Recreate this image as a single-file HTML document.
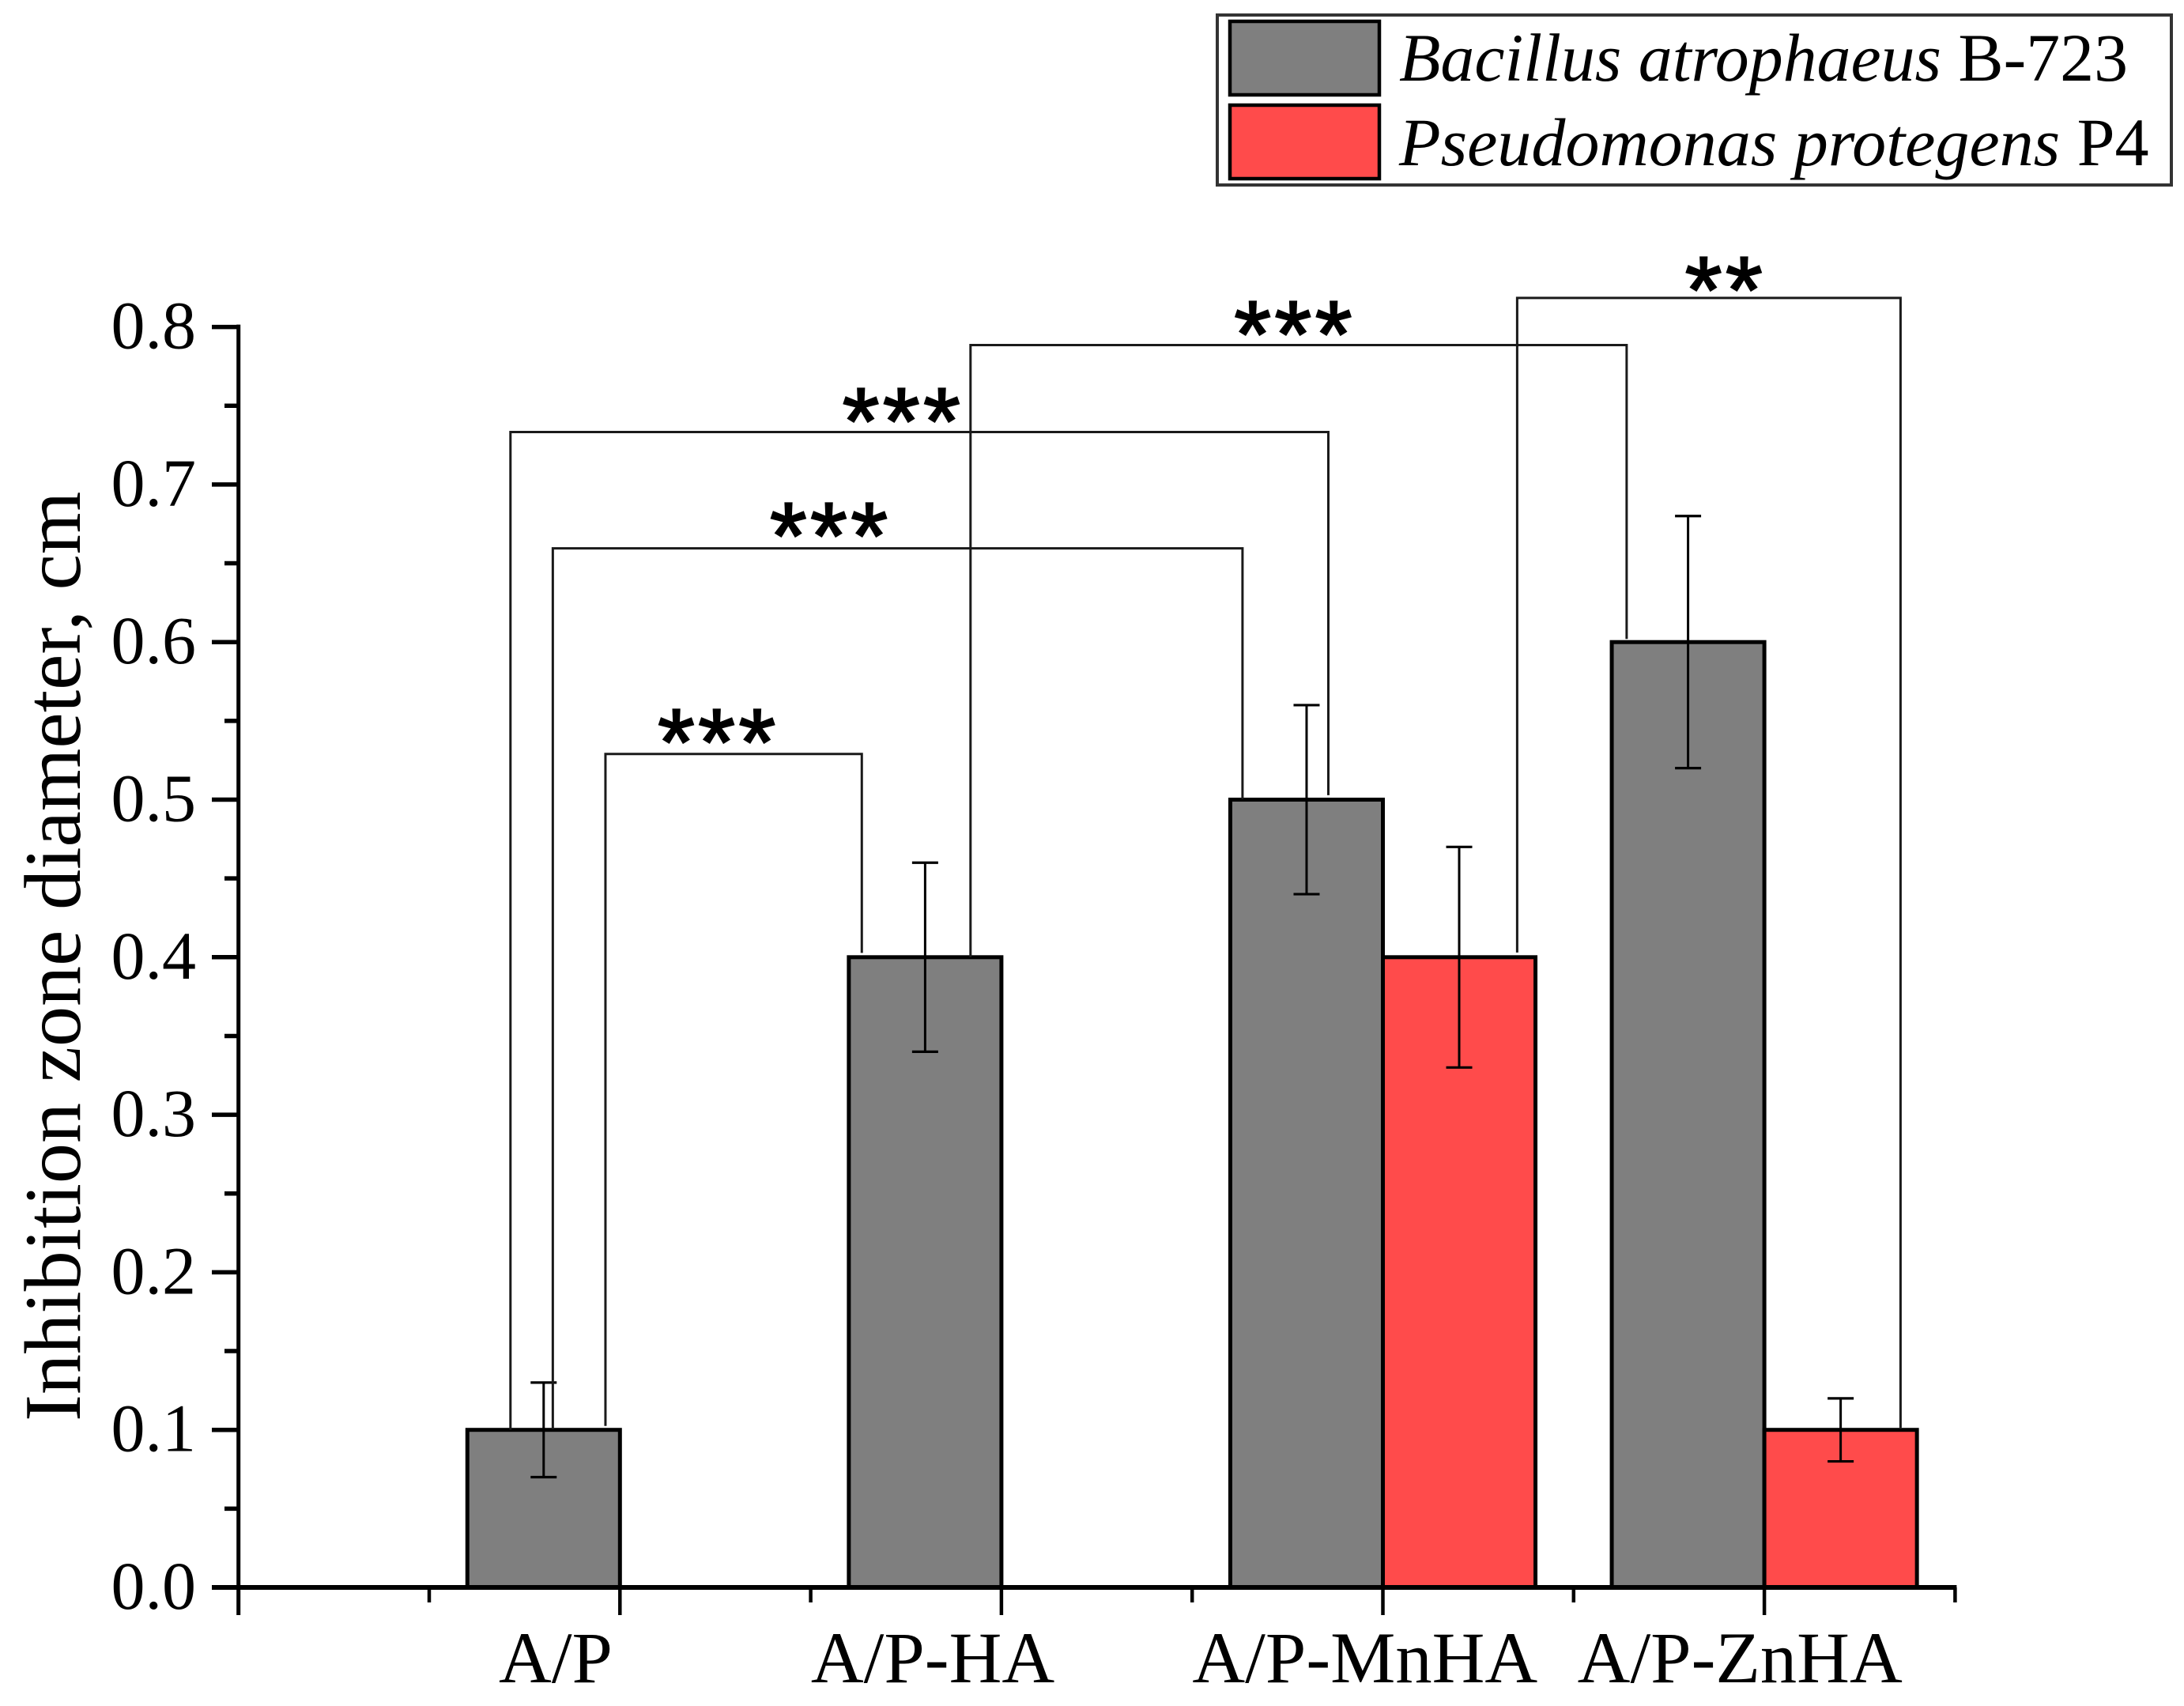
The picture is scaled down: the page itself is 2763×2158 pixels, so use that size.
<!DOCTYPE html>
<html lang="en">
<head>
<meta charset="utf-8">
<title>Inhibition zone diameter chart</title>
<style>
  html, body { margin: 0; padding: 0; background: #fff; }
  body { width: 2763px; height: 2158px; overflow: hidden; }
  svg { display: block; font-family: "Liberation Serif", "Times New Roman", serif; }
</style>
</head>
<body>
<svg id="chart" width="2763" height="2158" viewBox="0 0 2763 2158" xmlns="http://www.w3.org/2000/svg">
  <rect x="0" y="0" width="2763" height="2158" fill="#ffffff"/>
  <g id="plot"></g>
  <text transform="translate(101 1798) rotate(-90)" font-size="102.2" fill="#000">Inhibition zone diameter, cm</text>
  <g>
    <rect x="1540" y="19" width="1207" height="215" fill="#fff" stroke="#333" stroke-width="4"/>
    <rect x="1556" y="27" width="189" height="93" fill="#7f7f7f" stroke="#000" stroke-width="4.5"/>
    <text x="1770" y="102" font-size="85.85" fill="#000"><tspan font-style="italic">Bacillus atrophaeus</tspan> B-723</text>
    <rect x="1556" y="133" width="189" height="93" fill="#ff4b4b" stroke="#000" stroke-width="4.5"/>
    <text x="1770" y="209" font-size="86.1" fill="#000"><tspan font-style="italic">Pseudomonas protegens</tspan> P4</text>
  </g>
</svg>
<script>
// ---- chart data ----
const categories = ['A/P', 'A/P-HA', 'A/P-MnHA', 'A/P-ZnHA'];
const categoryLabelPositions = [0.8316, 1.82, 2.953, 3.936];
const bacillusValues = [0.1, 0.4, 0.5, 0.6];
const bacillusErrors = [0.03, 0.06, 0.06, 0.08];
const pseudomonasValues = [null, null, 0.4, 0.1];
const pseudomonasErrors = [null, null, 0.07, 0.02];
const yMajorTicks = [0, 0.1, 0.2, 0.3, 0.4, 0.5, 0.6, 0.7, 0.8];
const yTickLabels = ['0.0', '0.1', '0.2', '0.3', '0.4', '0.5', '0.6', '0.7', '0.8'];
const yMinorTicks = [0.05, 0.15, 0.25, 0.35, 0.45, 0.55, 0.65, 0.75];
const xMajorTicks = [0, 1, 2, 3, 4];
const xMinorTicks = [0.5, 1.5, 2.5, 3.5, 4.5];
const bracketLeft = [0.962, 0.824, 0.713, 1.919, 3.352];
const bracketRight = [1.634, 2.632, 2.857, 3.639, 4.357];
const bracketTop = [0.529, 0.6595, 0.7333, 0.7885, 0.8184];
const bracketLeftFoot = [0.1025, 0.1004, 0.1, 0.4, 0.403];
const bracketRightFoot = [0.4027, 0.5003, 0.5028, 0.602, 0.1013];
const bracketStars = ['***', '***', '***', '***', '**'];
const starCenter = [1.252, 1.546, 1.736, 2.763, 3.892];
const starBaseline = [0.5158, 0.6468, 0.7195, 0.7747, 0.8028];

// ---- axis functions ----
const xOrigin = 301.7, xUnit = 482.6, yOrigin = 2008, yUnit = 1993;
const barWidthUnits = 0.4;
const xScale = v => xOrigin + v * xUnit;
const yScale = v => yOrigin - v * yUnit;

const NS = 'http://www.w3.org/2000/svg';
const plot = document.getElementById('plot');
function make(tag, attrs, text) {
  const el = document.createElementNS(NS, tag);
  for (const k in attrs) el.setAttribute(k, attrs[k]);
  if (text !== undefined) el.textContent = text;
  plot.appendChild(el);
  return el;
}
function line(x1, y1, x2, y2, w, color) {
  return make('line', { x1, y1, x2, y2, stroke: color || '#000', 'stroke-width': w });
}

// ---- bars ----
function drawSeries(values, errors, offsetUnits, fill, key) {
  values.forEach((v, i) => {
    if (v === null) return;
    const x0 = xScale(i + 1 + offsetUnits);
    const w = barWidthUnits * xUnit;
    const bar = make('rect', { x: x0, y: yScale(v), width: w, height: yScale(0) - yScale(v), fill: fill, stroke: '#000', 'stroke-width': 5 });
    
    
  });
}
drawSeries(bacillusValues, bacillusErrors, -barWidthUnits, '#7f7f7f', 'bacillus');
drawSeries(pseudomonasValues, pseudomonasErrors, 0, '#ff4b4b', 'pseudomonas');

// ---- axes ----
const yAxis = line(xOrigin, yScale(0.8) - 3, xOrigin, 2043, 5);


const xAxis = line(268, yScale(0), xScale(4.5) + 2, yScale(0), 6);



yMajorTicks.forEach((v, i) => {
  const t = line(268, yScale(v), xOrigin, yScale(v), 5.5);
  
  
  const label = make('text', { x: 248, y: yScale(v) + 27, 'font-size': 86, 'text-anchor': 'end', fill: '#000' }, yTickLabels[i]);
  
  
});
yMinorTicks.forEach(v => {
  const t = line(284, yScale(v), xOrigin, yScale(v), 5.5);
  
  
});
xMajorTicks.forEach(v => {
  const t = line(xScale(v), yScale(0), xScale(v), 2043, 4.5);
  
  
});
xMinorTicks.forEach(v => {
  const t = line(xScale(v), yScale(0), xScale(v), 2027, 4.5);
  
  
});
categories.forEach((c, i) => {
  const label = make('text', { x: xScale(categoryLabelPositions[i]), y: 2128, 'font-size': 92.5, 'text-anchor': 'middle', fill: '#000' }, c);
  
  
});

// ---- error bars ----
function drawErrors(values, errors, offsetUnits) {
  values.forEach((v, i) => {
    if (v === null) return;
    const cx = xScale(i + 1 + offsetUnits);
    const hi = yScale(v + errors[i]);
    const lo = yScale(v - errors[i]);
    const stem = line(cx, hi, cx, lo, 3);
    
    
    const top = line(cx - 16.5, hi, cx + 16.5, hi, 3.2);
    
    
    const bottom = line(cx - 16.5, lo, cx + 16.5, lo, 3.2);
    
    
  });
}
drawErrors(bacillusValues, bacillusErrors, -barWidthUnits / 2);
drawErrors(pseudomonasValues, pseudomonasErrors, barWidthUnits / 2);

// ---- significance brackets ----
bracketTop.forEach((v, i) => {
  const xl = xScale(bracketLeft[i]), xr = xScale(bracketRight[i]), yt = yScale(v);
  const path = make('path', {
    d: 'M' + xl + ' ' + yScale(bracketLeftFoot[i]) + ' V' + yt + ' H' + xr + ' V' + yScale(bracketRightFoot[i]),
    fill: 'none', stroke: '#1a1a1a', 'stroke-width': 3
  });
  
  
  const stars = make('text', {
    x: xScale(starCenter[i]) + 3, y: yScale(starBaseline[i]), 'font-size': 120, 'letter-spacing': 4.5, 'text-anchor': 'middle',
    fill: '#000', stroke: '#000', 'stroke-width': 2.2, style: 'font-family:"Liberation Sans",Arial,sans-serif'
  }, bracketStars[i]);
  
  
});
</script>
</body>
</html>
